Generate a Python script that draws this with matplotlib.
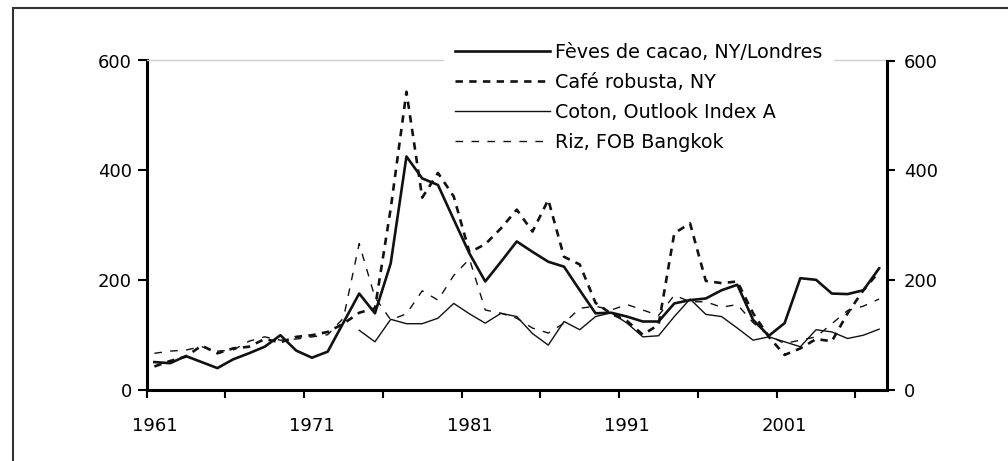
import numpy as np
import matplotlib.pyplot as plt
from matplotlib.lines import Line2D
from matplotlib.ticker import FixedLocator, NullFormatter

# indices, one value per year 1961-2007 (cotton starts in 1974)
years = np.arange(1961, 2008)

cacao = [50, 48, 61, 50, 39, 55, 66, 78, 99, 71,
         58, 69, 122, 175, 139, 230, 425, 385, 373, 310,
         248, 197, 233, 270, 251, 233, 224, 181, 139, 140,
         133, 124, 124, 157, 163, 166, 181, 191, 127, 98,
         121, 203, 200, 175, 174, 181, 221]

robusta = [42, 52, 60, 80, 66, 75, 78, 92, 86, 96,
           99, 105, 120, 140, 148, 330, 543, 350, 395, 352,
           250, 265, 294, 328, 288, 346, 242, 228, 158, 138,
           125, 100, 118, 285, 303, 198, 194, 197, 139, 96,
           63, 75, 92, 88, 139, 181, 215]

coton = [np.nan] * 13 + [
         108, 87, 128, 120, 120, 130, 157,
         138, 121, 139, 133, 102, 81, 124, 109, 133, 140,
         121, 96, 98, 133, 165, 137, 133, 112, 90, 96,
         87, 78, 109, 105, 93, 99, 110]

riz = [66, 70, 72, 78, 70, 72, 88, 96, 90, 92,
       96, 100, 130, 266, 168, 127, 138, 180, 163, 208,
       238, 145, 139, 130, 112, 103, 121, 148, 152, 145,
       155, 145, 135, 172, 160, 160, 150, 155, 122, 98,
       84, 90, 96, 120, 144, 152, 165]

labels = ["Fèves de cacao, NY/Londres", "Café robusta, NY",
          "Coton, Outlook Index A", "Riz, FOB Bangkok"]
year_labels = [1961, 1971, 1981, 1991, 2001]
y_ticks = [0, 200, 400, 600]

fs = 13
leg_fs = 13.8
fig = plt.figure(figsize=(10.08, 4.61), dpi=100)
ax = fig.add_axes([146.5 / 1008, 1 - 389.5 / 461,
                   (887 - 146.5) / 1008, (389.5 - 60.5) / 461])

ax.plot(years, cacao, color='#111111', lw=1.9, label=labels[0], zorder=4)
ax.plot(years, robusta, color='#111111', lw=1.9, ls=(0, (2.8, 2.4)),
        label=labels[1], zorder=3)
ax.plot(years, coton, color='#111111', lw=1.0, label=labels[2], zorder=2)
ax.plot(years, riz, color='#111111', lw=1.0, ls=(0, (5.5, 6.0)),
        label=labels[3], zorder=2)

ax.set_xlim(1960.5, 2007.5)
ax.set_ylim(0, 600)

# tick marks between categories, labels on the categories
ax.xaxis.set_major_locator(FixedLocator(np.arange(1960.5, 2007, 5)))
ax.xaxis.set_major_formatter(NullFormatter())
ax.xaxis.set_minor_locator(FixedLocator(year_labels))
ax.set_xticklabels([str(y) for y in year_labels], minor=True)
ax.tick_params(axis='x', which='major', direction='out', length=6, width=1.5)
ax.tick_params(axis='x', which='minor', length=0, pad=20, labelsize=fs)

ax.set_yticks(y_ticks)
ax.tick_params(axis='y', direction='out', length=6.5, width=1.5, pad=4,
               labelsize=fs)

for side in ['left', 'bottom']:
    ax.spines[side].set_linewidth(2.2)
ax.spines['right'].set_visible(False)
ax.spines['top'].set_color('#d0d0d0')
ax.spines['top'].set_linestyle((0, (1, 1)))
ax.spines['top'].set_linewidth(1.0)

ax2 = ax.twinx()
ax2.set_ylim(0, 600)
ax2.set_yticks(y_ticks)
ax2.tick_params(axis='y', direction='out', length=6, width=1.5, pad=6,
                labelsize=fs)
ax2.spines['right'].set_linewidth(2.2)
for side in ['left', 'top', 'bottom']:
    ax2.spines[side].set_visible(False)

h, l = ax.get_legend_handles_labels()
leg = ax2.legend(h, l, loc='upper left',
                 bbox_to_anchor=(443.5 / 1008, 1 - 31 / 461),
                 bbox_transform=fig.transFigure,
                 fontsize=leg_fs, handlelength=4.96, handletextpad=0.26,
                 labelspacing=0.58, borderpad=0.6, borderaxespad=0,
                 frameon=True, fancybox=False, framealpha=1)
leg.get_frame().set_edgecolor('none')
leg.get_frame().set_facecolor('white')

# scanned page frame
fig.add_artist(Line2D([13 / 1008, 1], [1 - 8 / 461, 1 - 8 / 461],
                      color='#333333', lw=1.5))
fig.add_artist(Line2D([13 / 1008, 13 / 1008], [0, 1 - 8 / 461],
                      color='#333333', lw=1.5))

fig.savefig('out.png', dpi=100)
